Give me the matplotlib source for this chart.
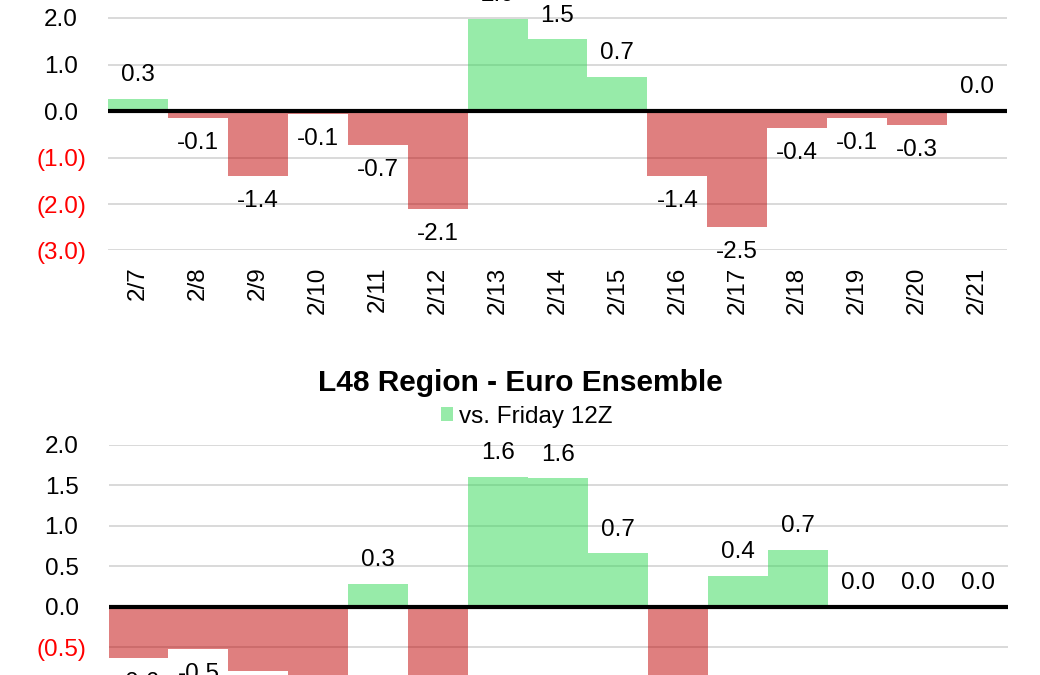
import matplotlib
matplotlib.use('Agg')
import matplotlib.pyplot as plt
from matplotlib.patches import Patch

plt.rcParams['font.family'] = ['Liberation Sans', 'DejaVu Sans']

# [data]
dates = ['2/7', '2/8', '2/9', '2/10', '2/11', '2/12', '2/13', '2/14',
         '2/15', '2/16', '2/17', '2/18', '2/19', '2/20', '2/21']
top_change = [0.26, -0.14, -1.39, -0.06, -0.73, -2.11, 1.98, 1.54,
              0.74, -1.39, -2.49, -0.37, -0.14, -0.30, 0.0]
euro_change = [-0.64, -0.52, -0.80, -0.95, 0.28, -1.10, 1.61, 1.59,
               0.66, -0.90, 0.38, 0.70, 0.0, 0.0, 0.0]
top_ticks = [-3.0, -2.0, -1.0, 0.0, 1.0, 2.0]
euro_ticks = [-0.5, 0.0, 0.5, 1.0, 1.5, 2.0]
legend_label = 'vs. Friday 12Z'
euro_title = 'L48 Region - Euro Ensemble'

green = '#31d955'
red = '#c00000'
FS = 17.5
W, H = 1040, 675


def draw(ax, values, ticks, ylim, show_dates=True):
    x = range(len(values))
    colors = [green if v >= 0 else red for v in values]
    ax.bar(x, values, width=1.0, color=colors, alpha=0.5, linewidth=0)
    ax.axhline(0, color='black', linewidth=3)
    ax.set_xlim(-0.5, len(values) - 0.5)
    ax.set_ylim(*ylim)
    ax.set_axisbelow(True)
    ax.grid(axis='y', color='#d9d9d9', linewidth=1.4)
    for s in ax.spines.values():
        s.set_visible(False)

    if show_dates:
        ax.set_xticks(list(x))
        ax.set_xticklabels(dates, rotation=90, fontsize=FS)
        ax.tick_params(axis='x', length=0, pad=11.5)
    else:
        ax.set_xticks([])

    ax.set_yticks(ticks)
    ax.set_yticklabels([f'({abs(t):.1f})' if t < 0 else f'{t:.1f}' for t in ticks],
                       fontsize=FS)
    ax.tick_params(axis='y', length=0)
    for tick, t in zip(ax.yaxis.get_major_ticks(), ticks):
        tick.set_pad(15.8 if t < 0 else 21.6)
        tick.label1.set_color('red' if t < 0 else 'black')

    for i, v in enumerate(values):
        ax.annotate(f'{v:.1f}', (i, v), xytext=(0, 17 if v >= 0 else -18),
                    textcoords='offset points', ha='center', va='center',
                    fontsize=FS)


fig = plt.figure(figsize=(W / 100, H / 100), dpi=100)

# top chart (cut off at the top of the picture)
top_unit = 46.5
ax1 = fig.add_axes([108 / W, (H - 250.5) / H, 899 / W, 6 * top_unit / H])
draw(ax1, top_change, top_ticks, (-3.0, 3.0))

# bottom chart (cut off at the bottom)
euro_unit = 80.85
ax2 = fig.add_axes([108.5 / W, (H - 445 - 5 * euro_unit) / H, 899 / W, 5 * euro_unit / H])
draw(ax2, euro_change, euro_ticks, (-3.0, 2.0), show_dates=False)

fig.text(520 / W, (H - 383) / H, euro_title, ha='center', va='center',
         fontsize=21.5, fontweight='bold')
fig.legend(handles=[Patch(color=green, alpha=0.5, linewidth=0)], labels=[legend_label],
           loc='center', bbox_to_anchor=(527 / W, (H - 417) / H), frameon=False,
           handlelength=0.5, handleheight=0.5, handletextpad=0.25, fontsize=FS,
           borderpad=0, borderaxespad=0)

fig.savefig('out.png', dpi=100)
